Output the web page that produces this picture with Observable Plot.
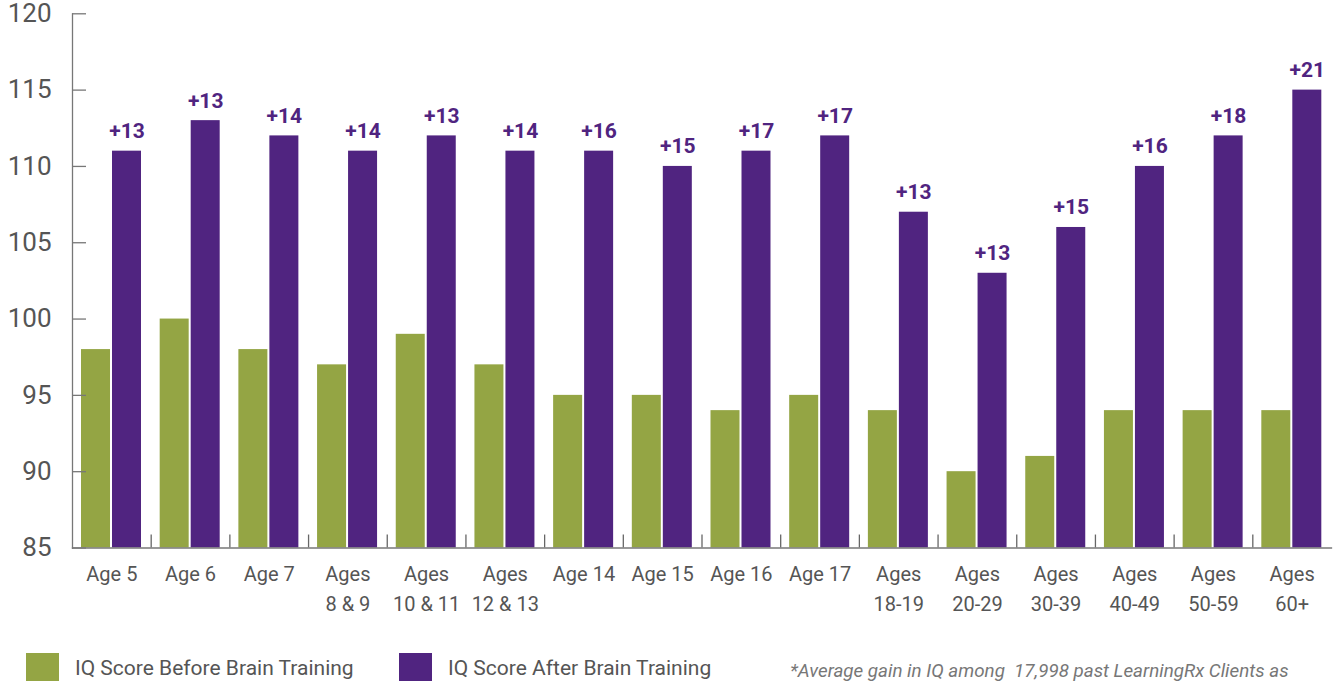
<!DOCTYPE html>
<html>
<head>
<meta charset="utf-8">
<script src="https://cdn.jsdelivr.net/npm/d3@7"></script>
<script src="https://cdn.jsdelivr.net/npm/@observablehq/plot@0.6"></script>
<style>
  body { margin: 0; background: #fff; font-family: Roboto, sans-serif; overflow: hidden; }
  #wrap { position: relative; width: 1338px; height: 681px; }
  #legend { position: absolute; left: 0; top: 653px; width: 1338px; height: 40px; color: #555; }
  .sw { position: absolute; top: 0; width: 33px; height: 30px; }
  .lt { position: absolute; top: 0; font-size: 21px; line-height: 30px; white-space: nowrap; }
  .note { position: absolute; top: 3px; font-size: 18.8px; font-style: italic; color: #777; line-height: 30px; white-space: pre; }
</style>
</head>
<body>
<div id="wrap">
  <div id="chart"></div>
  <div id="legend"></div>
</div>
<script>
const categories = ["Age 5","Age 6","Age 7","Ages\n8 & 9","Ages\n10 & 11","Ages\n12 & 13","Age 14","Age 15","Age 16","Age 17","Ages\n18-19","Ages\n20-29","Ages\n30-39","Ages\n40-49","Ages\n50-59","Ages\n60+"];
const before = [98,100,98,97,99,97,95,95,94,95,94,90,91,94,94,94];
const after  = [111,113,112,111,112,111,111,110,111,112,107,103,106,110,112,115];
const gains  = ["+13","+13","+14","+14","+13","+14","+16","+15","+17","+17","+13","+13","+15","+16","+18","+21"];
const yTicks = [85,90,95,100,105,110,115,120];
const seriesNames = ["IQ Score Before Brain Training","IQ Score After Brain Training"];
const colors = ["#94a544","#502480"];
const footnote = "*Average gain in IQ among  17,998 past LearningRx Clients as";

const rows = categories.map((c, i) => ({cat: c, before: before[i], after: after[i], gain: gains[i]}));

const W = 1338, H = 630, mL = 72, mR = 7, mT = 13.3, mB = 82.5;
const step = (W - mL - mR) / categories.length;

const chart = Plot.plot({
  width: W, height: H,
  marginLeft: mL, marginRight: mR, marginTop: mT, marginBottom: mB,
  style: {fontFamily: "Roboto, sans-serif", background: "#fff", overflow: "visible"},
  x: {domain: categories, padding: 0, round: false, axis: null},
  y: {domain: [85, 120], axis: null},
  marks: [
    Plot.barY(rows, {x: "cat", y1: 85, y2: "before", fill: colors[0], insetLeft: 9, insetRight: step - 38}),
    Plot.barY(rows, {x: "cat", y1: 85, y2: "after", fill: colors[1], insetLeft: 40, insetRight: step - 69}),
    Plot.text(rows, {x: "cat", y: "after", text: "gain", dx: 54.5 - step/2, dy: -13, lineAnchor: "bottom", fill: colors[1], fontWeight: "bold", fontSize: 21, letterSpacing: -0.5}),
    Plot.ruleX(categories.slice(1), {x: d => d, dx: -step/2, y1: 85, y2: 85.85, stroke: "#666", strokeWidth: 1.3}),
    Plot.axisY(yTicks, {tickSize: -14, tickPadding: 35, stroke: "#777", strokeWidth: 1.3, fontSize: 26, fill: "#555", tickFormat: d => d}),
    Plot.axisX({tickSize: 0, tickPadding: 12, fontSize: 20, fill: "#555", lineHeight: 1.5, lineAnchor: "top", label: null}),
    Plot.frame({anchor: "left", stroke: "#777", strokeWidth: 1.3}),
    Plot.frame({anchor: "bottom", stroke: "#777", strokeWidth: 1.3})
  ]
});
document.getElementById("chart").appendChild(chart);

const legend = document.getElementById("legend");
const swX = [26, 399], txX = [75, 448];
seriesNames.forEach((n, i) => {
  const s = document.createElement("div");
  s.className = "sw"; s.style.left = swX[i] + "px"; s.style.background = colors[i];
  legend.appendChild(s);
  const t = document.createElement("div");
  t.className = "lt"; t.style.left = txX[i] + "px"; t.textContent = n;
  legend.appendChild(t);
});
const note = document.createElement("div");
note.className = "note"; note.style.left = "790px"; note.textContent = footnote;
legend.appendChild(note);
</script>
</body>
</html>
